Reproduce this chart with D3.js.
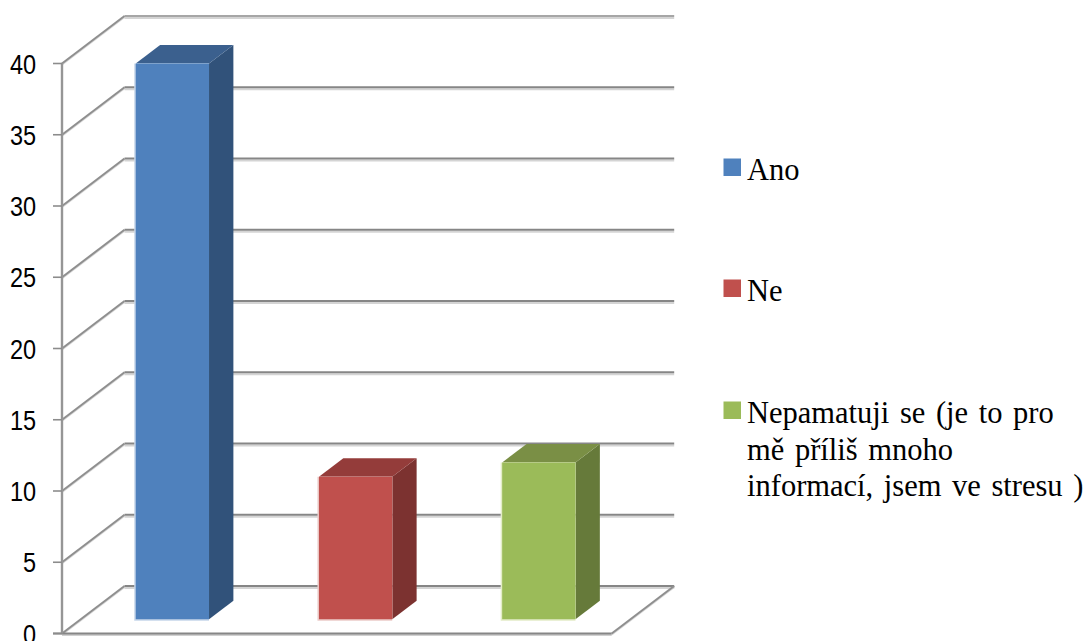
<!DOCTYPE html>
<html>
<head>
<meta charset="utf-8">
<style>html,body{margin:0;padding:0;background:#fff}svg{display:block}</style>
<script src="https://cdn.jsdelivr.net/npm/d3@7/dist/d3.min.js"></script>
</head>
<body>
<svg id="chart" width="1090" height="641"></svg>
<script>
// Answer counts, one bar per answer
const categories = ["Ano", "Ne", "Nepamatuji se (je to pro mě příliš mnoho informací, jsem ve stresu )"];
const values = [39, 10, 11];
const yTicks = [0, 5, 10, 15, 20, 25, 30, 35, 40];
const legendLines = [["Ano"], ["Ne"], ["Nepamatuji se (je to pro", "mě příliš mnoho", "informací, jsem ve stresu )"]];
const frontColors = ["#4f81bd", "#c0504d", "#9bbb59"];
const sideColors = ["#31527a", "#7c3230", "#667a3a"];
const topColors = ["#3b608e", "#943c3a", "#7a8f45"];
const edgeColors = ["#c6d6ea", "#eccbc9", "#e3ecc8"];

const svg = d3.select("#chart");

// Oblique projection: the floor recedes by this offset from front to back wall
const depthX = 62.5, depthY = 47.5;
const frontLeft = 62, frontRight = 611.7;
const y = d3.scaleLinear().domain([0, 40]).range([633.5, 63.5]);

// Bars stand 30% into the floor and take up 39% of its depth
const barInset = 0.3, barDepth = 0.39;
const x = d3.scaleBand().domain(categories)
  .range([frontLeft + depthX * barInset, frontRight + depthX * barInset])
  .paddingInner(0.6).paddingOuter(0.3);

const line = (g, x1, y1, x2, y2, stroke, w) => g.append("line")
  .attr("x1", x1).attr("y1", y1).attr("x2", x2).attr("y2", y2)
  .attr("stroke", stroke).attr("stroke-width", w);

const walls = svg.append("g");

// Gridlines: a diagonal on the side wall, then a run along the back wall
yTicks.forEach(v => {
  const yf = y(v), yb = yf - depthY;
  const top = v === 40;
  line(walls, frontLeft + depthX, yb + 2, frontRight + depthX, yb + 2, "#d4d4d4", 2);
  line(walls, frontLeft + depthX, yb, frontRight + depthX, yb, top ? "#a6a6a6" : "#868686", 2);
  line(walls, frontLeft, yf + 1, frontLeft + depthX, yb + 1, "#d6d6d6", 2);
  line(walls, frontLeft, yf, frontLeft + depthX, yb, "#8f8f8f", 2);
});

// Floor edges and the vertical axis
line(walls, frontRight, y(0) + 1, frontRight + depthX, y(0) - depthY + 1, "#d6d6d6", 2);
line(walls, frontRight, y(0), frontRight + depthX, y(0) - depthY, "#8f8f8f", 2);
line(walls, frontLeft, y(0) + 1.5, frontRight, y(0) + 1.5, "#d0d0d0", 2);
line(walls, frontLeft - 9, y(0), frontRight, y(0), "#868686", 2);
line(walls, frontLeft, y(40), frontLeft, y(0), "#969696", 2.4);

// Tick marks and labels; the labels are set slightly condensed
const yAxis = svg.append("g");
yAxis.selectAll("line").data(yTicks).join("line")
  .attr("x1", frontLeft - 9).attr("x2", frontLeft)
  .attr("y1", d => y(d)).attr("y2", d => y(d))
  .attr("stroke", "#8c8c8c").attr("stroke-width", 1.6);
yAxis.selectAll("text").data(yTicks).join("text")
  .attr("transform", d => `translate(36,${y(d) + 10}) scale(0.87,1)`)
  .attr("text-anchor", "end")
  .attr("font-family", "'Liberation Sans',sans-serif")
  .attr("font-size", 27)
  .attr("fill", "#000")
  .text(d => d);

// Bars: side and top faces first, then the front face with its pale edge
const inset = depthY * barInset;
const dx = depthX * barDepth, dy = depthY * barDepth;
const bars = svg.append("g").selectAll("g").data(values).join("g");

bars.append("polygon")
  .attr("fill", (d, i) => sideColors[i])
  .attr("points", (d, i) => {
    const r = x(categories[i]) + x.bandwidth(), t = y(d) - inset, b = y(0) - inset;
    return [[r, t], [r + dx, t - dy], [r + dx, b - dy], [r, b]].join(" ");
  });
bars.append("polygon")
  .attr("fill", (d, i) => topColors[i])
  .attr("points", (d, i) => {
    const l = x(categories[i]), r = l + x.bandwidth(), t = y(d) - inset;
    return [[l, t], [r, t], [r + dx, t - dy], [l + dx, t - dy]].join(" ");
  });
bars.append("rect")
  .attr("x", (d, i) => x(categories[i]) - 1.5)
  .attr("y", d => y(d) - inset)
  .attr("width", x.bandwidth() + 1.5)
  .attr("height", d => y(0) - y(d) + 1.5)
  .attr("fill", (d, i) => edgeColors[i]);
bars.append("rect")
  .attr("x", (d, i) => x(categories[i]))
  .attr("y", d => y(d) - inset)
  .attr("width", x.bandwidth())
  .attr("height", d => y(0) - y(d))
  .attr("fill", (d, i) => frontColors[i]);

// Legend
const legendBaselines = [180, 301, 423];
const legend = svg.append("g").selectAll("g").data(categories).join("g");
legend.append("rect")
  .attr("x", 723.5).attr("width", 17.5).attr("height", 17.5)
  .attr("y", (d, i) => legendBaselines[i] - 21.5)
  .attr("fill", (d, i) => frontColors[i]);
legend.each(function (d, i) {
  d3.select(this).selectAll("text").data(legendLines[i]).join("text")
    .attr("x", 747)
    .attr("y", (t, j) => legendBaselines[i] + j * 36.6)
    .attr("font-family", "'Liberation Serif',serif")
    .attr("font-size", 30.5)
    .attr("word-spacing", 3)
    .attr("fill", "#000")
    .text(t => t);
});
</script>
</body>
</html>
